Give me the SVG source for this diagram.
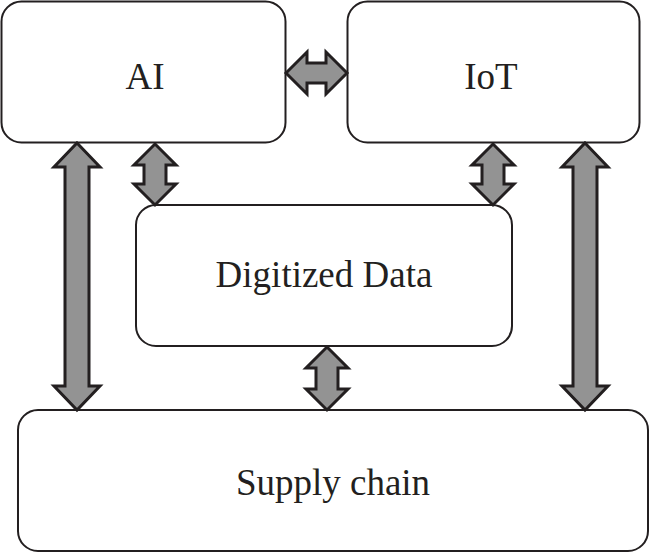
<svg xmlns="http://www.w3.org/2000/svg" width="650" height="554" viewBox="0 0 650 554">
<style>
.box{fill:#fff;stroke:#231f20;stroke-width:2}
.lbl{font-family:"Liberation Serif",serif;font-size:37px;fill:#231f20;text-anchor:middle;dominant-baseline:central}
.arr{fill:#939393;stroke:#231f20;stroke-width:3;stroke-linejoin:miter}
</style>
<rect width="650" height="554" fill="#fff"/>
<g id="ai"><rect class="box" x="1.5" y="1.5" width="284" height="141" rx="20"/><text class="lbl" x="145" y="76">AI</text></g>
<g id="iot"><rect class="box" x="347.5" y="1.5" width="292" height="141" rx="20"/><text class="lbl" x="491" y="76">IoT</text></g>
<g id="data"><rect class="box" x="136" y="205" width="376" height="141" rx="20"/><text class="lbl" x="324" y="274">Digitized Data</text></g>
<g id="supply"><rect class="box" x="18" y="410" width="630" height="141" rx="20"/><text class="lbl" x="333" y="482">Supply chain</text></g>
<g id="connectors">
<path class="arr" d="M77,143 L100,167 L89,167 L89,386 L100,386 L77,410 L54,386 L65,386 L65,167 L54,167 Z"/>
<path class="arr" d="M585,143 L608,167 L597,167 L597,386 L608,386 L585,410 L562,386 L573,386 L573,167 L562,167 Z"/>
<path class="arr" d="M155,144 L176,165 L166,165 L166,184 L176,184 L155,205 L134,184 L144,184 L144,165 L134,165 Z"/>
<path class="arr" d="M493,144 L514,165 L504,165 L504,184 L514,184 L493,205 L472,184 L482,184 L482,165 L472,165 Z"/>
<path class="arr" d="M327,347 L348,368 L338,368 L338,389 L348,389 L327,410 L306,389 L316,389 L316,368 L306,368 Z"/>
<path class="arr" d="M286,73 L307,52 L307,63 L326,63 L326,52 L347,73 L326,94 L326,83 L307,83 L307,94 Z"/>
</g>
</svg>
